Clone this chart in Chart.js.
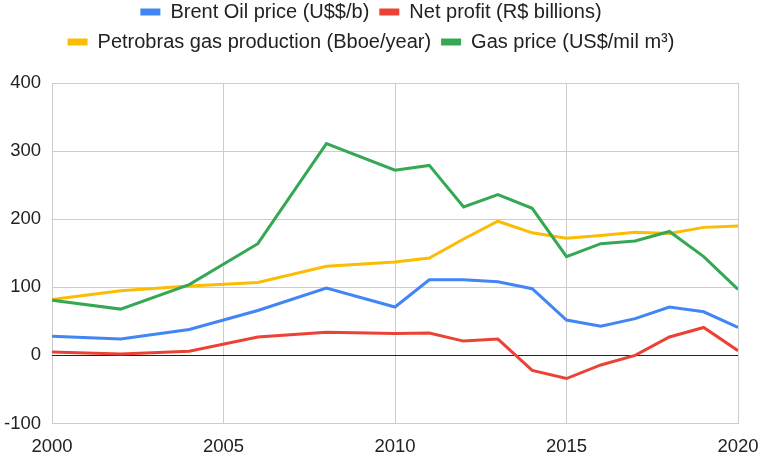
<!DOCTYPE html>
<html>
<head>
<meta charset="utf-8">
<script src="https://cdn.jsdelivr.net/npm/chart.js@4/dist/chart.umd.min.js"></script>
<style>
  html, body { margin: 0; padding: 0; background: #fff; overflow: hidden; }
  canvas { display: block; }
</style>
</head>
<body>
<canvas id="chart" width="762" height="456"></canvas>
<script>
/* Petrobras: oil price, profit, gas production, gas price */

const years = [2000, 2002, 2004, 2006, 2008, 2010, 2011, 2012, 2013, 2014, 2015, 2016, 2017, 2018, 2019, 2020];
const brent = [28, 24, 38, 66, 99, 71, 111, 111, 108, 98, 52, 43, 54, 71, 64, 41];
const netProfit = [5, 2, 6, 27, 34, 32, 33, 21, 24, -22, -34, -14, 0, 27, 41, 7];
const gasProduction = [82, 95, 102, 107, 131, 137, 143, 171, 197, 180, 172, 176, 181, 179, 188, 190];
const gasPrice = [81, 68, 104, 164, 311, 272, 279, 218, 236, 216, 145, 164, 168, 182, 145, 97];
const yTicks = [-100, 0, 100, 200, 300, 400];
const xTicks = [2000, 2005, 2010, 2015, 2020];

const font = "Liberation Sans";

function series(label, values, color, order) {
  return {
    label: label,
    data: years.map((y, i) => ({ x: y, y: values[i] })),
    borderColor: color,
    backgroundColor: color,
    borderWidth: 3,
    pointRadius: 0,
    tension: 0,
    order: order
  };
}

new Chart(document.getElementById("chart"), {
  type: "line",
  data: {
    datasets: [
      series("Brent Oil price (U$$/b)", brent, "#4285F4", 4),
      series("Net profit (R$ billions)", netProfit, "#EA4335", 3),
      series("Petrobras gas production (Bboe/year)", gasProduction, "#FBBC04", 2),
      series("Gas price (US$/mil m³)", gasPrice, "#34A853", 1)
    ]
  },
  options: {
    responsive: false,
    devicePixelRatio: 1,
    animation: false,
    layout: { padding: { top: -8, left: 4, right: 24, bottom: 0 } },
    plugins: {
      tooltip: { enabled: false },
      legend: {
        position: "top",
        weight: 3000,
        labels: {
          font: { family: font, size: 20 },
          color: "#222",
          boxWidth: 20,
          boxHeight: 7,
          padding: 10,
          sort: (a, b) => a.datasetIndex - b.datasetIndex,
          generateLabels: chart =>
            Chart.defaults.plugins.legend.labels.generateLabels(chart).map(l => ({ ...l, lineWidth: 0 }))
        }
      },
      // empty title used only as a spacer between legend and plot
      title: {
        display: true,
        text: "",
        padding: 0,
        font: { size: 21, lineHeight: 1 }
      }
    },
    scales: {
      x: {
        type: "linear",
        min: 2000,
        max: 2020,
        afterBuildTicks: axis => { axis.ticks = xTicks.map(v => ({ value: v })); },
        ticks: {
          font: { family: font, size: 18.5, lineHeight: 1 },
          color: "#222",
          padding: 0,
          maxRotation: 0,
          callback: v => String(v)
        },
        // invisible tick marks give the gap under the plot
        grid: { color: "#cccccc", drawTicks: true, tickLength: 14, tickColor: "rgba(0,0,0,0)" },
        border: { display: false }
      },
      y: {
        min: -100,
        max: 400,
        afterBuildTicks: axis => { axis.ticks = yTicks.map(v => ({ value: v })); },
        ticks: {
          font: { family: font, size: 18.5 },
          color: "#222",
          padding: 0,
          callback: v => String(v)
        },
        grid: {
          color: ctx => (ctx.tick && ctx.tick.value === 0 ? "#222" : "#cccccc"),
          drawTicks: true,
          tickLength: 11,
          tickColor: "rgba(0,0,0,0)"
        },
        border: { display: false }
      }
    }
  }
});
</script>
</body>
</html>
